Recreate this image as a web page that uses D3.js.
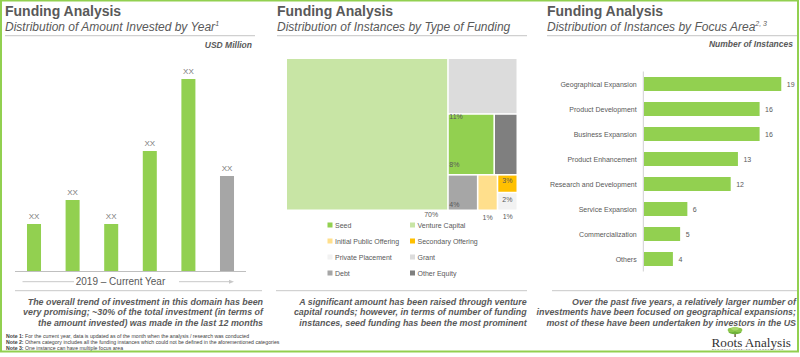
<!DOCTYPE html>
<html><head><meta charset="utf-8">
<script src="https://cdn.jsdelivr.net/npm/d3@7"></script>
<style>body{margin:0;background:#fff}svg{display:block;font-family:"Liberation Sans",Arial,sans-serif}</style>
</head><body><svg id="c" width="800" height="357"></svg>
<script>
// ---------- DATA ----------
// Panel 1: amount invested by year (values hidden as "XX" in source; relative heights)
const years = ["2019", "2020", "2021", "2022", "2023", "Current Year"];
const amountValues = [47, 71, 47, 120, 192, 95];
const amountLabels = ["XX", "XX", "XX", "XX", "XX", "XX"];
const amountMax = 200;

// Panel 2: instances by type of funding (treemap)
const fundingTypes = ["Venture Capital", "Grant", "Seed", "Other Equity", "Debt", "Initial Public Offering", "Secondary Offering", "Private Placement"];
const fundingShares = [70, 11, 8, 4, 3, 2, 1, 1];
const fundingLabels = ["70%", "11%", "8%", "1%", "4%", "1%", "3%", "2%"];
const legendOrder = ["Seed", "Venture Capital", "Initial Public Offering", "Secondary Offering", "Private Placement", "Grant", "Debt", "Other Equity"];

// Panel 3: instances by focus area
const focusAreas = ["Geographical Expansion", "Product Development", "Business Expansion", "Product Enhancement", "Research and Development", "Service Expansion", "Commercialization", "Others"];
const focusCounts = [19, 16, 16, 13, 12, 6, 5, 4];

const notes = [
  ["Note 1:", " For the current year, data is updated as of the month when the analysis / research was conducted"],
  ["Note 2:", " Others category includes all the funding instances which could not be defined in the aforementioned categories"],
  ["Note 3:", " One instance can have multiple focus area"]
];

// ---------- STYLE ----------
const GREEN = "#92d050", DARK = "#595959", AXIS = "#d0d0d0";
const fundingColors = {
  "Venture Capital": "#c8e5a5", "Grant": "#dcdcdc", "Seed": "#92d050", "Other Equity": "#7f7f7f",
  "Debt": "#a6a6a6", "Initial Public Offering": "#ffdf8c", "Secondary Offering": "#ffc000", "Private Placement": "#f2f2f2"
};

const svg = d3.select("#c");

// frame
svg.append("rect").attr("x", 1).attr("y", 0.5).attr("width", 797).attr("height", 351)
  .attr("fill", "none").attr("stroke", GREEN).attr("stroke-width", 2);

function header(x0, x1, sub, sup) {
  svg.append("text").attr("x", x0).attr("y", 16).attr("font-size", 14).attr("font-weight", "bold")
    .attr("fill", DARK).text("Funding Analysis");
  const t = svg.append("text").attr("x", x0).attr("y", 31).attr("font-size", 12).attr("font-style", "italic")
    .attr("fill", DARK);
  t.append("tspan").text(sub);
  if (sup) t.append("tspan").attr("font-size", 7).attr("dy", -5).text(sup);
  svg.append("line").attr("x1", x0).attr("x2", x1).attr("y1", 35.7).attr("y2", 35.7)
    .attr("stroke", "#d0d0d0").attr("stroke-width", 1.2);
}
function commentary(xRight, lines, sepX0, sepX1) {
  svg.append("line").attr("x1", sepX0).attr("x2", sepX1).attr("y1", 290.7).attr("y2", 290.7)
    .attr("stroke", "#c8c8c8").attr("stroke-width", 1);
  lines.forEach((l, i) => {
    svg.append("text").attr("x", xRight).attr("y", 304.5 + i * 10.6).attr("text-anchor", "end")
      .attr("font-size", 8.9).attr("font-weight", "bold").attr("font-style", "italic").attr("fill", DARK).text(l);
  });
}

// ---------- PANEL 1 ----------
header(5, 255, "Distribution of Amount Invested by Year", "1");
svg.append("text").attr("x", 252).attr("y", 48).attr("text-anchor", "end").attr("font-size", 8.5)
  .attr("font-weight", "bold").attr("font-style", "italic").attr("fill", DARK).text("USD Million");

const x1 = d3.scaleBand().domain(years).range([14.7, 246.3]).paddingInner(0.637).paddingOuter(0.3185);
const y1 = d3.scaleLinear().domain([0, amountMax]).range([271, 71]);
const g1 = svg.append("g");
g1.selectAll("rect").data(years).join("rect")
  .attr("x", d => x1(d)).attr("width", x1.bandwidth())
  .attr("y", (d, i) => y1(amountValues[i])).attr("height", (d, i) => y1(0) - y1(amountValues[i]))
  .attr("fill", (d, i) => i === years.length - 1 ? "#a6a6a6" : GREEN);
g1.selectAll("text").data(years).join("text")
  .attr("x", d => x1(d) + x1.bandwidth() / 2).attr("y", (d, i) => y1(amountValues[i]) - 5.5)
  .attr("text-anchor", "middle").attr("font-size", 8).attr("fill", "#7a7a7a").text((d, i) => amountLabels[i]);
svg.append("line").attr("x1", 15).attr("x2", 246).attr("y1", 271.5).attr("y2", 271.5).attr("stroke", "#bfbfbf");

svg.append("text").attr("x", 120.5).attr("y", 285).attr("text-anchor", "middle").attr("font-size", 10)
  .attr("fill", DARK).text(years[0] + " – " + years[years.length - 1]);
svg.append("line").attr("x1", 22.5).attr("x2", 74).attr("y1", 281.7).attr("y2", 281.7).attr("stroke", "#c8c8c8");
svg.append("line").attr("x1", 179).attr("x2", 229).attr("y1", 281.7).attr("y2", 281.7).attr("stroke", "#c8c8c8");
svg.append("path").attr("d", "M229,279.7 L234,281.7 L229,283.7 Z").attr("fill", "#c8c8c8");

commentary(263, ["The overall trend of investment in this domain has been",
  "very promising; ~30% of the total investment (in terms of",
  "the amount invested) was made in the last 12 months"], 15, 262);

notes.forEach((n, i) => {
  const t = svg.append("text").attr("x", 6).attr("y", 338 + i * 6).attr("font-size", 5.2).attr("fill", "#404040");
  t.append("tspan").attr("font-weight", "bold").text(n[0]);
  t.append("tspan").text(n[1]);
});

// ---------- PANEL 2 ----------
header(277, 527, "Distribution of Instances by Type of Funding", null);

const share = name => fundingShares[fundingTypes.indexOf(name)];
const leaf = name => ({ name, value: share(name) });
const tree = {
  name: "root", children: [
    leaf("Venture Capital"),
    { name: "rest", children: [
      leaf("Grant"),
      { name: "mid", children: [leaf("Seed"), leaf("Other Equity")] },
      { name: "bottom", children: [leaf("Debt"), leaf("Initial Public Offering"),
        { name: "small", children: [leaf("Secondary Offering"), leaf("Private Placement")] }] }
    ] }
  ]
};
const TMX = 287, TMY = 59, TMW = 229.5, TMH = 150.5;
const root = d3.hierarchy(tree).sum(d => d.value || 0);
d3.treemap().tile(d3.treemapSliceDice).size([TMW, TMH]).paddingInner(1.6)(root);
const g2 = svg.append("g").attr("transform", `translate(${TMX},${TMY})`);
const leaves = root.leaves();
g2.selectAll("rect").data(leaves).join("rect")
  .attr("x", d => d.x0).attr("y", d => d.y0).attr("width", d => d.x1 - d.x0).attr("height", d => d.y1 - d.y0)
  .attr("fill", d => fundingColors[d.data.name]);

// label placement (as in source picture)
const place = {
  "Venture Capital": d => [d.x1 - 9, TMH + 7.5, "end"],
  "Grant": d => [d.x0 + 0.5, d.y1 + 6, "start"],
  "Seed": d => [d.x0 + 0.5, d.y1 - 7, "start"],
  "Other Equity": d => [(d.x0 + d.x1) / 2 + 2, TMH + 9, "middle"],
  "Debt": d => [d.x0 + 0.5, d.y1 - 2.5, "start"],
  "Initial Public Offering": d => [(d.x0 + d.x1) / 2, TMH + 10.5, "middle"],
  "Secondary Offering": d => [(d.x0 + d.x1) / 2, d.y0 + 7.5, "middle"],
  "Private Placement": d => [(d.x0 + d.x1) / 2, d.y0 + 8.5, "middle"]
};
g2.selectAll("text").data(leaves).join("text")
  .each(function (d) {
    const p = place[d.data.name](d);
    d3.select(this).attr("x", p[0]).attr("y", p[1]).attr("text-anchor", p[2]);
  })
  .attr("font-size", 7).attr("fill", DARK)
  .text(d => fundingLabels[fundingTypes.indexOf(d.data.name)]);

const lg = svg.append("g");
legendOrder.forEach((name, i) => {
  const cx = i % 2 === 0 ? 327.5 : 410;
  const cy = 225 + Math.floor(i / 2) * 16;
  lg.append("rect").attr("x", cx).attr("y", cy - 2.5).attr("width", 5).attr("height", 5).attr("fill", fundingColors[name]);
  lg.append("text").attr("x", cx + 7.5).attr("y", cy + 2.5).attr("font-size", 7).attr("fill", DARK).text(name);
});

commentary(526.7, ["A significant amount has been raised through venture",
  "capital rounds; however, in terms of number of funding",
  "instances, seed funding has been the most prominent"], 276, 527);

// ---------- PANEL 3 ----------
header(547, 797, "Distribution of Instances by Focus Area", "2, 3");
svg.append("text").attr("x", 793).attr("y", 46.5).attr("text-anchor", "end").attr("font-size", 8.5)
  .attr("font-weight", "bold").attr("font-style", "italic").attr("fill", DARK).text("Number of Instances");

const x3 = d3.scaleLinear().domain([0, 20]).range([644, 788.5]);
const y3 = d3.scaleBand().domain(focusAreas).range([71.5, 271.5]).paddingInner(0.44).paddingOuter(0.22);
const g3 = svg.append("g");
g3.selectAll("rect").data(focusAreas).join("rect")
  .attr("x", x3(0)).attr("y", d => y3(d)).attr("height", y3.bandwidth())
  .attr("width", (d, i) => x3(focusCounts[i]) - x3(0)).attr("fill", GREEN);
g3.selectAll("text.v").data(focusAreas).join("text").attr("class", "v")
  .attr("x", (d, i) => x3(focusCounts[i]) + 5.5).attr("y", d => y3(d) + y3.bandwidth() / 2 + 2.5)
  .attr("font-size", 7).attr("fill", DARK).text((d, i) => focusCounts[i]);
g3.selectAll("text.c").data(focusAreas).join("text").attr("class", "c")
  .attr("x", 636.7).attr("y", d => y3(d) + y3.bandwidth() / 2 + 2.5).attr("text-anchor", "end")
  .attr("font-size", 7).attr("fill", DARK).text(d => d);
svg.append("line").attr("x1", 643.3).attr("x2", 643.3).attr("y1", 71.5).attr("y2", 271.5).attr("stroke", AXIS);

commentary(796, ["Over the past five years, a relatively larger number of",
  "investments have been focused on geographical expansions;",
  "most of these have been undertaken by investors in the US"], 552, 797);

// logo
const logo = svg.append("g");
logo.append("rect").attr("x", 734.4).attr("y", 332).attr("width", 1.4).attr("height", 5).attr("fill", "#6b5a3a");
[[735, 332, 6.5, 2.2, "#6fb23a"], [731.5, 330, 3.8, 2.2, "#8cc84b"], [738.5, 330, 3.8, 2.2, "#8cc84b"], [735, 328.6, 3.8, 1.8, "#a9d86b"]]
  .forEach(e => logo.append("ellipse").attr("cx", e[0]).attr("cy", e[1]).attr("rx", e[2]).attr("ry", e[3]).attr("fill", e[4]));
logo.append("text").attr("x", 711.5).attr("y", 346.5).attr("font-family", "'Liberation Serif','Times New Roman',serif")
  .attr("font-size", 13.2).attr("fill", "#333").text("Roots Analysis");
logo.append("text").attr("x", 712).attr("y", 350.3).attr("font-size", 2.5).attr("letter-spacing", 0.85)
  .attr("fill", "#555").text("BUSINESS RESEARCH & CONSULTING");
</script></body></html>
